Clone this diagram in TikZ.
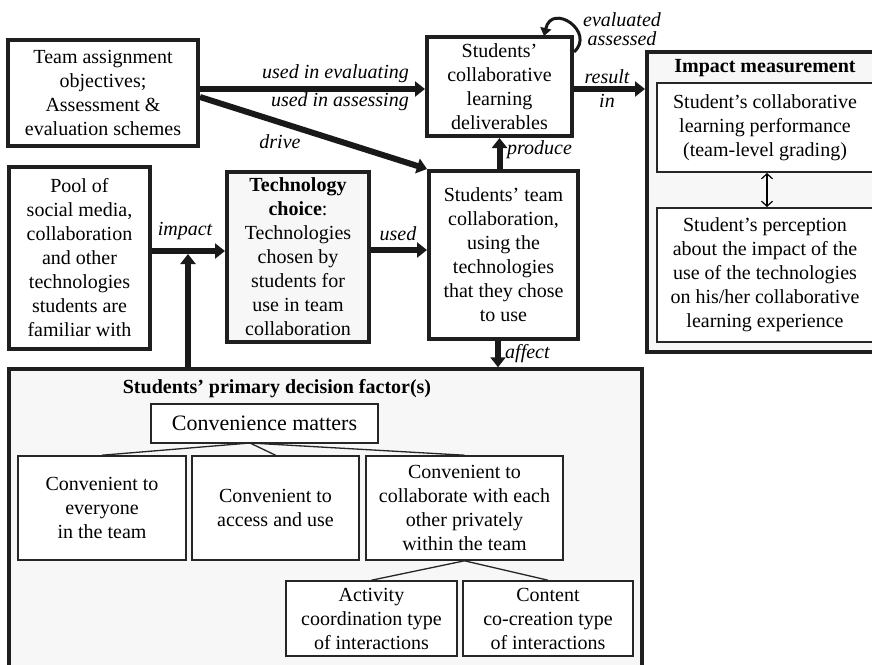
\documentclass[tikz,border=0pt]{standalone}
\usepackage{fontspec}
\setmainfont{Liberation Serif}
\usetikzlibrary{positioning,calc,arrows.meta}

\tikzset{
	box/.style={draw=black!88, line width=4pt, fill=white, align=center, inner sep=0pt},
	subbox/.style={draw=black!85, line width=1.6pt, fill=white, align=center, inner sep=0pt},
	bigarrow/.style={draw=black!90, line width=6pt, -{Triangle[length=10pt,width=15pt]}},
	lbl/.style={font=\itshape, inner sep=0pt},
	ttl/.style={font=\bfseries, inner sep=0pt},
	branch/.style={draw=black!85, line width=1.3pt},
}

\begin{document}
\fontsize{20}{24}\selectfont
\begin{tikzpicture}[x=1pt,y=-1pt]
		\useasboundingbox (0,0) rectangle (872,664);
		\clip (0,0) rectangle (872,664);
		
		% outer frames
		\node[box, fill=black!3, minimum width=236pt, minimum height=300pt] (impbox) at (765,202) {};
		\node[box, line width=3.5pt, fill=black!3, minimum width=633pt, minimum height=331pt] (decbox) at (325.5,534.5) {};
		
		\node[ttl] (imptitle) at (765,68) {Impact measurement};
		\node[ttl] (dectitle) at (277,389) {Students' primary decision factor(s)};
		
		% main boxes
		\node[box, minimum width=190pt, minimum height=106pt] (team) at (103,93)
			{Team assignment\\objectives;\\Assessment \&\\evaluation schemes};
		\node[box, minimum width=145pt, minimum height=99pt] (deliv) at (499.5,86.5)
			{Students'\\collaborative\\learning\\deliverables};
		\node[box, minimum width=149pt, minimum height=168pt] (collab) at (503.5,255)
			{Students' team\\collaboration,\\using the\\technologies\\that they chose\\to use};
		\node[box, minimum width=141pt, minimum height=182pt] (pool) at (79.5,258)
			{Pool of\\social media,\\collaboration\\and other\\technologies\\students are\\familiar with};
		\node[box, fill=black!3, minimum width=142pt, minimum height=170pt] (tech) at (298,257)
			{\textbf{Technology}\\\textbf{choice}:\\Technologies\\chosen by\\students for\\use in team\\collaboration};
		
		% impact measurement
		\node[subbox, line width=2pt, minimum width=216pt, minimum height=89pt] (perf) at (765,127.5)
			{Student's collaborative\\learning performance\\(team-level grading)};
		\node[subbox, line width=2pt, minimum width=216pt, minimum height=134pt] (percep) at (765,275)
			{Student's perception\\about the impact of the\\use of the technologies\\on his/her collaborative\\learning experience};
		\draw[line width=1.2pt, {Straight Barb[length=5pt,width=11pt]}-{Straight Barb[length=5pt,width=11pt]}]
			(perf.south -| 767,0) -- (percep.north -| 767,0);
		
		% decision factors
		\node[subbox, font=\fontsize{22}{26}\selectfont, minimum width=227pt, minimum height=39pt] (conv) at (264.5,423.5) {Convenience matters};
		\node[subbox, minimum width=168pt, minimum height=104pt] (convA) at (102,508)
			{Convenient to\\everyone\\in the team};
		\node[subbox, minimum width=167pt, minimum height=104pt] (convB) at (275.5,508)
			{Convenient to\\access and use};
		\node[subbox, minimum width=197pt, minimum height=104pt] (convC) at (464.5,508)
			{Convenient to\\collaborate with each\\other privately\\within the team};
		\node[subbox, minimum width=171pt, minimum height=75pt] (actD) at (371.5,618.5)
			{Activity\\coordination type\\of interactions};
		\node[subbox, minimum width=170pt, minimum height=75pt] (contE) at (548,618.5)
			{Content\\co-creation type\\of interactions};
		
		\coordinate (fork) at (250,443);
		\draw[branch] (fork) -- (convA.north);
		\draw[branch] (fork) -- (convB.north);
		\draw[branch] (fork) -- (convC.north);
		\draw[branch] (convC.south) -- (actD.north);
		\draw[branch] (convC.south) -- (contE.north);
		
		% arrows
		\draw[bigarrow] (team.east |- 0,89) -- (deliv.west |- 0,89);
		\draw[bigarrow] (team.east |- 0,97) -- (collab.north west);
		\draw[bigarrow] (deliv.east |- 0,89) -- (impbox.west |- 0,89);
		\draw[bigarrow] (deliv.south |- collab.north) -- (deliv.south);
		\draw[bigarrow] (pool.east |- 0,251) -- (tech.west |- 0,251);
		\draw[bigarrow] (tech.east |- 0,250) -- (collab.west |- 0,250);
		\draw[bigarrow] (188,0 |- decbox.north) -- (188,254);
		\draw[bigarrow] (498,0 |- collab.south) -- (498,0 |- decbox.north);
		\draw[draw=black!90, line width=3pt, -{Triangle[length=8pt,width=11pt]}]
			(deliv.east |- 0,52) .. controls (596,32) and (552,2) .. (544,36);
		
		% labels
		\node[lbl, anchor=east] at (409,74) {used in evaluating};
		\node[lbl, anchor=east] at (409,102) {used in assessing};
		\node[lbl] at (280,142) {drive};
		\node[lbl, align=center, font=\itshape\fontsize{20}{19}\selectfont] at (622,29) {evaluated\\assessed};
		\node[lbl] at (607,77) {result};
		\node[lbl] at (607,101) {in};
		\node[lbl, anchor=west] at (507,150) {produce};
		\node[lbl] at (185,231) {impact};
		\node[lbl] at (398,234) {used};
		\node[lbl, anchor=west] at (505,354) {affect};
\end{tikzpicture}
\end{document}
